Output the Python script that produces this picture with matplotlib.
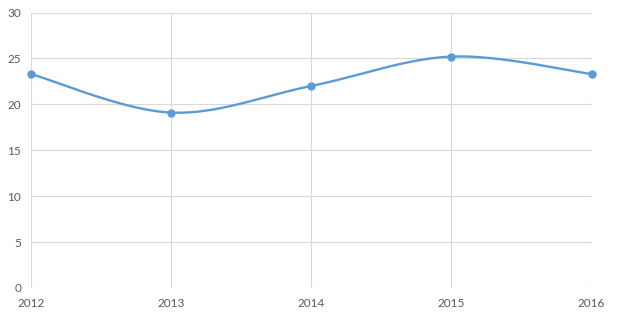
import matplotlib
matplotlib.use("Agg")
import matplotlib.pyplot as plt
import numpy as np

years = [2012, 2013, 2014, 2015, 2016]
values = [23.3, 19.1, 22.0, 25.2, 23.3]
y_ticks = [0, 5, 10, 15, 20, 25, 30]


def smooth_curve(xs, ys, n=40):
    # Excel-style smoothed line: cubic bezier with catmull-rom control points
    pts = np.column_stack([xs, ys]).astype(float)
    out = []
    for i in range(len(pts) - 1):
        p0 = pts[max(i - 1, 0)]
        p1 = pts[i]
        p2 = pts[i + 1]
        p3 = pts[min(i + 2, len(pts) - 1)]
        c1 = p1 + (p2 - p0) / 6.0
        c2 = p2 - (p3 - p1) / 6.0
        t = np.linspace(0, 1, n)[:, None]
        seg = ((1 - t) ** 3) * p1 + 3 * ((1 - t) ** 2) * t * c1 + 3 * (1 - t) * t ** 2 * c2 + t ** 3 * p2
        out.append(seg if i == 0 else seg[1:])
    seg = np.vstack(out)
    return seg[:, 0], seg[:, 1]


plt.rcParams['font.family'] = ['Lato', 'DejaVu Sans']

fig = plt.figure(figsize=(6.17, 3.2), dpi=100)
ax = fig.add_axes([31 / 617, 32 / 320, 560.5 / 617, 275.5 / 320])

sx, sy = smooth_curve(years, values)
ax.plot(sx, sy, color='#5B9BD5', linewidth=1.7, zorder=3, clip_on=False)
ax.plot(years, values, 'o', color='#5B9BD5', markersize=5, zorder=4, clip_on=False)

ax.set_xlim(2012, 2016)
ax.set_ylim(0, 30)
ax.set_xticks(years)
ax.set_xticklabels([str(y) for y in years])
ax.set_yticks(y_ticks)
ax.grid(True, color='#D9D9D9', linewidth=0.8)
ax.set_axisbelow(True)
for s in ax.spines.values():
    s.set_visible(False)
ax.tick_params(axis='both', length=0, labelsize=8.5, colors='#595959')
ax.tick_params(axis='x', pad=7)
ax.tick_params(axis='y', pad=7)

fig.savefig('out.png', dpi=100)
